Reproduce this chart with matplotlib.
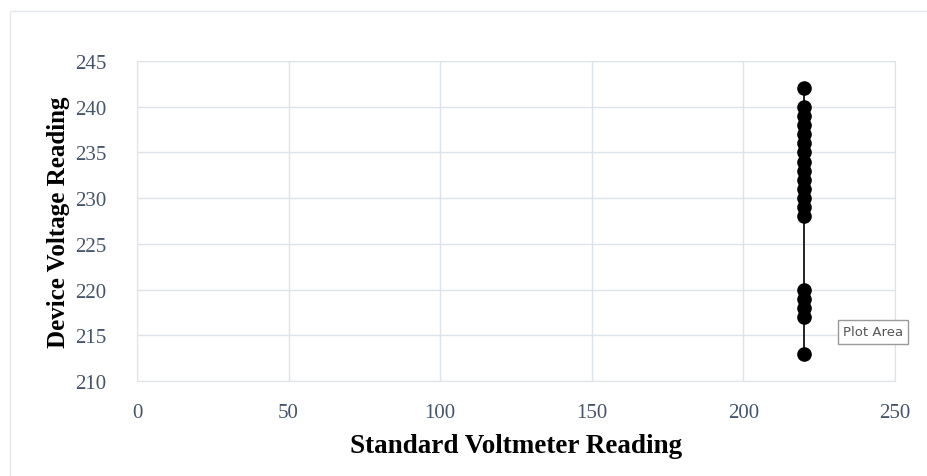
import matplotlib

matplotlib.use("Agg")
import matplotlib.pyplot as plt
from matplotlib.patches import Rectangle

# readings (standard voltmeter vs device)
standard_v = [220] * 18
device_v = [242, 240, 239, 238, 237, 236, 235, 234, 233, 232, 231, 230, 229, 228,
            220, 219, 218, 217]
standard_low = [220]
device_low = [213]

x_ticks = [0, 50, 100, 150, 200, 250]
y_ticks = [210, 215, 220, 225, 230, 235, 240, 245]

plt.rcParams["font.family"] = ["Liberation Serif", "DejaVu Serif"]

fig = plt.figure(figsize=(9.28, 4.77), dpi=100)
fig.patch.set_facecolor("white")
# outer chart frame
fig.patches.append(Rectangle((10 / 928, -0.05), 1.2, 1.05 - 12 / 477, transform=fig.transFigure,
                             fill=False, edgecolor="#e3e7ec", linewidth=1.0))

ax = fig.add_axes([137 / 928, 95 / 477, 758 / 928, 320 / 477])

xs = standard_v + standard_low
ys = device_v + device_low
order = sorted(range(len(ys)), key=lambda i: ys[i])
ax.plot([xs[i] for i in order], [ys[i] for i in order], color="black", linewidth=1.2,
        marker="o", markersize=9.5, zorder=3)

ax.set_xlim(0, 250)
ax.set_ylim(210, 245)
ax.set_xticks(x_ticks)
ax.set_yticks(y_ticks)
ax.grid(True, color="#dde3ea", linewidth=1.0)
ax.set_axisbelow(True)
for s in ax.spines.values():
    s.set_color("#dde3ea")
ax.tick_params(length=0, labelsize=15, labelcolor="#44546a")
ax.tick_params(axis="y", pad=22)
ax.tick_params(axis="x", pad=16)

ax.set_xlabel("Standard Voltmeter Reading", fontsize=19.5, fontweight="bold", labelpad=8)
ax.set_ylabel("Device Voltage Reading", fontsize=18, fontweight="bold", labelpad=4)

# tooltip left over from the spreadsheet
ax.text(843 / 928, (477 - 333) / 477, "Plot Area", transform=fig.transFigure, fontsize=9.5,
        family="DejaVu Sans", color="#555555", va="center",
        bbox=dict(boxstyle="square,pad=0.4", facecolor="white", edgecolor="#999999"))

fig.savefig("out.png", dpi=100)
